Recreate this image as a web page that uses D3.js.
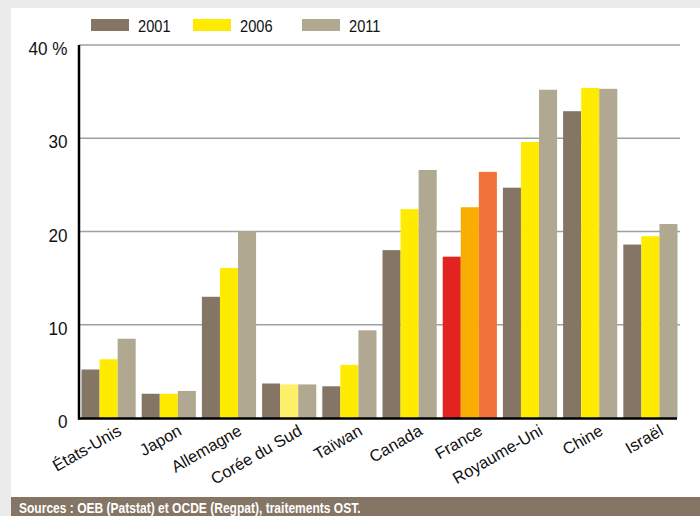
<!DOCTYPE html>
<html>
<head>
<meta charset="utf-8">
<script src="https://cdn.jsdelivr.net/npm/d3@7"></script>
<style>
  body { margin: 0; background: #ebebeb; }
  text { font-family: "Liberation Sans", Arial, sans-serif; }
</style>
</head>
<body>
<div id="chart"></div>
<script>
const countries = ["États-Unis", "Japon", "Allemagne", "Corée du Sud", "Taïwan", "Canada", "France", "Royaume-Uni", "Chine", "Israël"];
const years = ["2001", "2006", "2011"];
const v2001 = [5.2, 2.6, 13.0, 3.7, 3.4, 18.0, 17.3, 24.7, 32.9, 18.6];
const v2006 = [6.3, 2.6, 16.1, 3.6, 5.7, 22.4, 22.6, 29.6, 35.4, 19.5];
const v2011 = [8.5, 2.9, 20.0, 3.6, 9.4, 26.6, 26.4, 35.2, 35.3, 20.8];
const yTicks = [0, 10, 20, 30, 40];

const colors = { "2001": "#857565", "2006": "#ffeb00", "2011": "#b0a890" };
const franceColors = { "2001": "#e32222", "2006": "#f9ad00", "2011": "#f0743a" };

const W = 700, H = 516;
const svg = d3.select("#chart").append("svg")
  .attr("width", W).attr("height", H);

// white panel
svg.append("rect").attr("x", 11).attr("y", 8).attr("width", W - 11).attr("height", H - 8)
  .attr("fill", "#fff");

const y = d3.scaleLinear().domain([0, 40]).range([418, 45]);
const x = d3.scaleBand().domain(countries).range([78.5, 680.5]).paddingInner(0.1).paddingOuter(0.05);
const xs = d3.scaleBand().domain(years).range([0, x.bandwidth()]);

// gridlines
svg.append("g").selectAll("line")
  .data(yTicks.filter(d => d > 0))
  .enter().append("line")
  .attr("x1", 79).attr("x2", 680)
  .attr("y1", d => y(d)).attr("y2", d => y(d))
  .attr("stroke", "#a0a0a0").attr("stroke-width", 1.5);

// bars
const series = years.map((yr, i) => ({ year: yr, values: [v2001, v2006, v2011][i] }));
const rows = [];
series.forEach(s => s.values.forEach((v, i) => rows.push({ year: s.year, country: countries[i], v: v })));

svg.append("g").selectAll("rect")
  .data(rows)
  .enter().append("rect")
  .attr("x", d => x(d.country) + xs(d.year))
  .attr("width", xs.bandwidth())
  .attr("y", d => y(d.v))
  .attr("height", d => y(0) - y(d.v))
  .attr("fill", function(d) {
    if (d.country === "France") return franceColors[d.year];
    if (d.country === "Corée du Sud" && d.year === "2006") return "#fff06a";
    return colors[d.year];
  });

// axes lines
svg.append("line").attr("x1", 79).attr("x2", 79).attr("y1", 45).attr("y2", 419.5)
  .attr("stroke", "#000").attr("stroke-width", 2.5);
svg.append("line").attr("x1", 78).attr("x2", 677).attr("y1", 418.5).attr("y2", 418.5)
  .attr("stroke", "#000").attr("stroke-width", 2.5);

// y tick labels (slightly condensed)
svg.append("g").selectAll("text")
  .data(yTicks)
  .enter().append("text")
  .attr("transform", d => "translate(67.5," + (y(d) + 10) + ") scale(0.9,1)")
  .attr("text-anchor", "end")
  .attr("font-size", 19)
  .attr("fill", "#111")
  .text(d => d === 40 ? "40 %" : d);

// x labels
svg.append("g").selectAll("text")
  .data(countries)
  .enter().append("text")
  .attr("transform", d => "translate(" + (x(d) + x.bandwidth() / 2 + 14) + ",434) rotate(-30)")
  .attr("text-anchor", "end")
  .attr("font-size", 16.5)
  .attr("fill", "#111")
  .text(d => d);

// legend
const legend = svg.append("g").selectAll("g")
  .data(years)
  .enter().append("g")
  .attr("transform", (d, i) => "translate(" + [91, 193, 302][i] + ",19)");
legend.append("rect").attr("width", 38).attr("height", 12).attr("fill", d => colors[d]);
legend.append("text").attr("transform", "translate(47,13.3) scale(0.86,1)")
  .attr("font-size", 17).attr("fill", "#111").text(d => d);

// footer
svg.append("rect").attr("x", 11).attr("y", 497).attr("width", W - 11).attr("height", 19)
  .attr("fill", "#857565");
svg.append("text").attr("transform", "translate(19,513) scale(0.86,1)")
  .attr("font-size", 14).attr("font-weight", "bold").attr("fill", "#fff")
  .text("Sources : OEB (Patstat) et OCDE (Regpat), traitements OST.");
</script>
</body>
</html>
